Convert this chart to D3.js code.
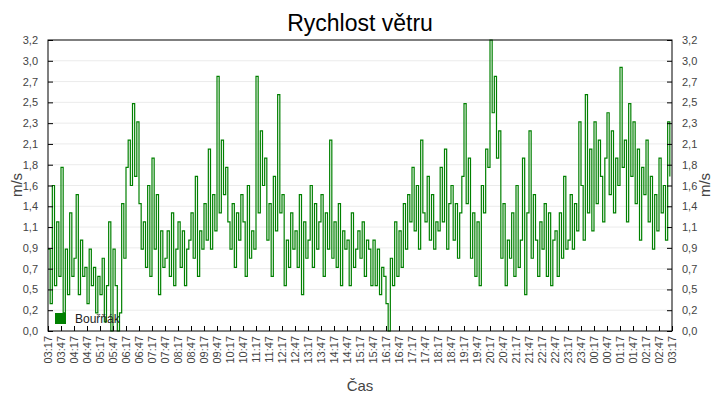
<!DOCTYPE html>
<html><head><meta charset="utf-8">
<script src="https://cdn.jsdelivr.net/npm/d3@7"></script>
<style>body{margin:0;background:#fff}text{font-family:"Liberation Sans",Arial,sans-serif}</style>
</head><body><svg id="c" width="720" height="400"></svg>
<script>
const title = "Rychlost větru";
const seriesName = "Bouřňák";
const xLabels = ["03:17","03:47","04:17","04:47","05:17","05:47","06:17","06:47","07:17","07:47","08:17","08:47","09:17","09:47","10:17","10:47","11:17","11:47","12:17","12:47","13:17","13:47","14:17","14:47","15:17","15:47","16:17","16:47","17:17","17:47","18:17","18:47","19:17","19:47","20:17","20:47","21:17","21:47","22:17","22:47","23:17","23:47","00:17","00:47","01:17","01:47","02:17","02:47","03:17"];
const yTickLabels = ["0,0","0,2","0,5","0,7","0,9","1,1","1,4","1,6","1,8","2,1","2,3","2,5","2,7","3,0","3,2"];
// wind speed, 5-minute samples (m/s)
const speed = [
0.9,0.3,1.6,0.5,1.2,0.6, 1.8,0.2,0.9,0.4,1.3,0.6, 0.8,1.5,0.4,1.0,0.6,0.7, 0.3,0.9,0.5,0.7,0.2,0.6,
0.4,0.8,0.1,0.5,1.2,0.0, 0.9,0.5,0.0,0.2,1.4,0.8, 1.8,2.1,1.6,2.5,1.7,2.3, 1.4,0.9,1.2,0.7,1.6,0.6,
1.9,0.9,1.5,0.4,1.1,0.7, 0.8,1.1,0.6,1.3,0.5,0.9, 1.2,0.7,1.1,0.5,0.9,1.0, 1.3,0.8,1.7,0.6,1.1,0.9,
1.4,1.0,2.0,0.9,1.5,1.1, 2.8,1.3,2.1,1.5,1.8,1.2, 0.9,1.4,0.7,1.3,1.0,1.5, 1.2,0.6,1.6,0.8,1.1,0.9,
2.8,1.3,2.2,1.6,1.9,1.0, 1.4,0.6,1.7,1.1,2.6,1.3, 1.5,0.5,1.0,0.7,1.3,0.9, 1.1,0.7,1.5,0.4,1.2,0.8,
1.0,1.6,0.7,1.4,0.9,1.2, 1.5,0.6,1.3,0.9,2.1,0.8, 1.2,0.7,1.4,0.5,1.1,0.9, 1.0,0.5,1.3,0.7,0.9,1.1,
0.8,1.2,0.6,1.0,0.9,0.5, 1.0,0.5,0.9,0.4,0.7,0.6, 0.3,0.0,0.8,0.5,1.2,0.6, 1.1,0.7,1.4,0.9,1.5,1.2,
1.8,1.1,1.6,0.9,2.1,1.3, 1.2,1.7,1.0,1.5,0.9,1.2, 1.1,1.8,1.2,2.0,0.9,1.4, 1.6,1.0,1.4,0.8,1.3,1.7,
2.5,1.4,1.9,0.8,1.3,0.6, 1.2,0.5,1.6,1.3,2.0,1.8, 3.2,2.4,2.8,1.9,2.2,0.8, 1.4,0.5,1.0,0.8,1.3,0.6,
1.6,0.7,1.0,1.9,0.4,1.3, 2.2,0.8,1.5,1.0,0.6,1.2, 0.9,1.4,0.6,1.3,0.5,1.0, 1.1,0.6,1.3,0.8,1.7,0.9,
1.0,1.5,0.9,1.4,1.1,2.3, 1.6,1.0,2.6,1.3,2.0,1.1, 2.3,1.4,2.1,1.7,1.2,1.9, 2.4,1.5,2.2,1.3,1.9,1.6,
2.9,1.8,2.1,1.2,2.5,1.7, 2.3,1.4,2.0,1.0,1.8,1.5, 2.1,1.2,1.7,0.9,1.5,1.1, 1.9,1.3,1.6,1.0,2.3,1.7
];
const svg = d3.select("#c");
const L=48,R=672,T=40,B=331;
const x = d3.scaleLinear().domain([0, (xLabels.length-1)*30]).range([L,R]);
const y = d3.scaleLinear().domain([0,3.2]).range([B,T]);
const yt = yTickLabels.map((s,i)=>i*3.2/14);
svg.append("text").attr("x",360).attr("y",31).attr("text-anchor","middle").attr("font-size",23).attr("fill","#000").text(title);
svg.append("g").selectAll("line").data(yt.slice(1,-1)).join("line")
 .attr("x1",L).attr("x2",R).attr("y1",d=>y(d)).attr("y2",d=>y(d)).attr("stroke","#ebebeb");
const line = d3.line().x((d,i)=>x(i*5)).y(d=>y(d)).curve(d3.curveStepAfter);
svg.append("path").datum(speed).attr("d",line).attr("fill","none").attr("stroke","#008000").attr("stroke-width",1.2);
const fmt = v=>yTickLabels[yt.indexOf(v)];
const yl = d3.axisLeft(y).tickValues(yt).tickFormat(fmt).tickSize(-5).tickPadding(10);
const yr = d3.axisRight(y).tickValues(yt).tickFormat(fmt).tickSize(-5).tickPadding(10);
const xa = d3.axisBottom(x).tickValues(xLabels.map((s,i)=>i*30)).tickFormat((d,i)=>xLabels[i]).tickSize(-5).tickPadding(4);
[svg.append("g").attr("transform",`translate(${L},0)`).call(yl),
 svg.append("g").attr("transform",`translate(${R},0)`).call(yr)].forEach(g=>{
  g.select(".domain").remove(); g.selectAll("line").attr("stroke","#000");
  g.selectAll("text").attr("font-size",11).attr("fill","#444").attr("font-family","Liberation Sans,Arial");
});
const gx = svg.append("g").attr("transform",`translate(0,${B})`).call(xa);
gx.select(".domain").remove(); gx.selectAll("line").attr("stroke","#000");
gx.selectAll("text").attr("font-size",11).attr("fill","#444").attr("font-family","Liberation Sans,Arial")
 .attr("text-anchor","end").attr("dy","0.32em").attr("x",-5).attr("y",0)
 .attr("transform","rotate(-90)");
svg.append("rect").attr("x",L).attr("y",T).attr("width",R-L).attr("height",B-T).attr("fill","none").attr("stroke","#000");
svg.append("rect").attr("x",55).attr("y",313).attr("width",11).attr("height",11).attr("fill","#008000");
svg.append("text").attr("x",75).attr("y",323).attr("font-size",12).attr("fill","#222").text(seriesName);
svg.append("text").attr("transform","translate(22,185) rotate(-90)").attr("text-anchor","middle").attr("font-size",15).attr("fill","#444").text("m/s");
svg.append("text").attr("transform","translate(710,185) rotate(-90)").attr("text-anchor","middle").attr("font-size",15).attr("fill","#444").text("m/s");
svg.append("text").attr("x",360).attr("y",391).attr("text-anchor","middle").attr("font-size",15).attr("fill","#444").text("Čas");
</script></body></html>
